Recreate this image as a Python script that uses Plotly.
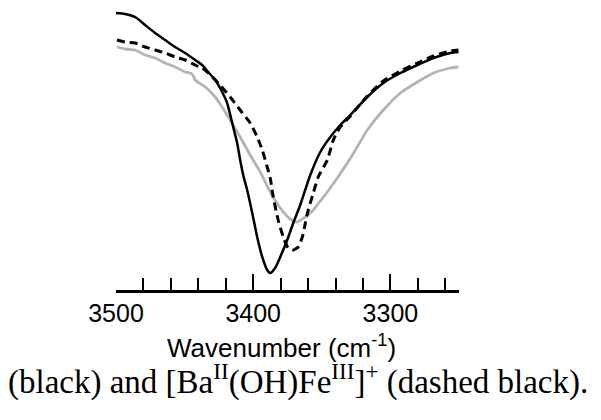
import plotly.graph_objects as go

# Wavenumber (cm^-1) and transmittance (arbitrary units)
solid_wn = [3500.0, 3493.4, 3486.1, 3478.8, 3471.5, 3464.2, 3456.9, 3449.6, 3442.3, 3437.2,
            3432.8, 3427.7, 3422.6, 3419.0, 3414.6, 3411.7, 3409.5, 3407.3, 3404.4, 3400.7,
            3397.1, 3393.4, 3389.8, 3387.6, 3384.0, 3380.3, 3375.2, 3370.8, 3365.7, 3358.4,
            3351.1, 3343.8, 3336.5, 3329.2, 3316.8, 3305.1, 3292.7, 3280.3, 3268.6, 3256.2, 3250.4]
solid_t = [277, 276, 273, 265, 257, 250, 243, 237, 230, 225,
           218, 210, 198, 187, 163, 147, 130, 115, 100, 77,
           53, 33, 20, 17, 22, 33, 50, 67, 85, 115,
           138, 153, 165, 175, 193, 207, 217, 225, 232, 237, 238]

dashed_wn = [3499.3, 3493.4, 3486.1, 3478.8, 3471.5, 3464.2, 3456.9, 3449.6, 3442.3, 3437.2,
             3432.8, 3425.5, 3416.8, 3409.5, 3402.2, 3397.1, 3393.4, 3389.8, 3387.6, 3385.4,
             3381.8, 3378.1, 3374.5, 3370.8, 3367.2, 3364.2, 3362.0, 3359.9, 3356.2, 3352.6,
             3346.0, 3341.6, 3336.5, 3329.2, 3316.8, 3305.1, 3292.7, 3280.3, 3268.6, 3256.2, 3250.4]
dashed_t = [250, 248, 247, 243, 240, 237, 233, 230, 225, 222,
            217, 207, 193, 180, 167, 153, 140, 123, 112, 93,
            70, 53, 42, 40, 43, 53, 67, 80, 97, 113,
            130, 150, 163, 174, 194, 209, 219, 227, 234, 239, 240]

gray_wn = [3499.3, 3493.4, 3486.1, 3478.8, 3471.5, 3464.2, 3456.9, 3449.6, 3444.5, 3442.3,
           3435.0, 3427.7, 3424.1, 3416.8, 3409.5, 3402.2, 3394.9, 3387.6, 3380.3, 3373.0,
           3367.9, 3362.0, 3356.2, 3351.1, 3346.0, 3338.7, 3331.4, 3325.5, 3316.8, 3305.1,
           3292.7, 3280.3, 3268.6, 3256.2, 3250.4]
gray_t = [243, 241, 240, 235, 232, 227, 223, 218, 216, 210,
          203, 193, 186, 170, 153, 135, 118, 98, 82, 71,
          68, 73, 80, 89, 98, 112, 127, 140, 160, 180,
          197, 208, 217, 222, 223]

x_ticks = [3500, 3400, 3300]
x_title = "Wavenumber (cm<sup>-1</sup>)"
caption = "(black) and [Ba<sup>II</sup>(OH)Fe<sup>III</sup>]<sup>+</sup> (dashed black)."

fig = go.Figure()
fig.add_trace(go.Scatter(x=gray_wn, y=gray_t, mode="lines",
                         line=dict(color="#b4b4b4", width=2.8, shape="spline", smoothing=0.6),
                         cliponaxis=False, showlegend=False))
fig.add_trace(go.Scatter(x=dashed_wn, y=dashed_t, mode="lines",
                         line=dict(color="black", width=3, dash="8px,5px", shape="spline", smoothing=0.6),
                         cliponaxis=False, showlegend=False))
fig.add_trace(go.Scatter(x=solid_wn, y=solid_t, mode="lines",
                         line=dict(color="black", width=2.5, shape="spline", smoothing=0.6),
                         cliponaxis=False, showlegend=False))

fig.update_layout(
    width=601, height=420,
    margin=dict(l=108, r=150, t=0, b=138),
    paper_bgcolor="white", plot_bgcolor="white",
    xaxis=dict(range=[3500, 3250], tickvals=x_ticks, ticktext=[str(v) for v in x_ticks],
               ticks="inside", ticklen=16, tickwidth=2, tickcolor="black",
               ticklabelstandoff=-1,
               showline=True, linecolor="black", linewidth=2.5, showgrid=False, zeroline=False,
               tickfont=dict(family="Liberation Sans, Arial", size=25, color="black"),
               minor=dict(dtick=20, tick0=3500, ticks="inside", ticklen=12, tickwidth=2,
                          tickcolor="black", showgrid=False)),
    yaxis=dict(range=[0, 282], visible=False),
    annotations=[
        dict(text=x_title, xref="paper", yref="paper", x=0.4825, y=-0.202,
             xanchor="center", yanchor="middle", showarrow=False,
             font=dict(family="Liberation Sans, Arial", size=26, color="black")),
        dict(text=caption, xref="paper", yref="paper", x=1.3819, y=-0.318,
             xanchor="right", yanchor="middle", showarrow=False,
             font=dict(family="Liberation Serif, Times New Roman", size=33, color="black")),
    ],
)

fig.write_html("out.html")
